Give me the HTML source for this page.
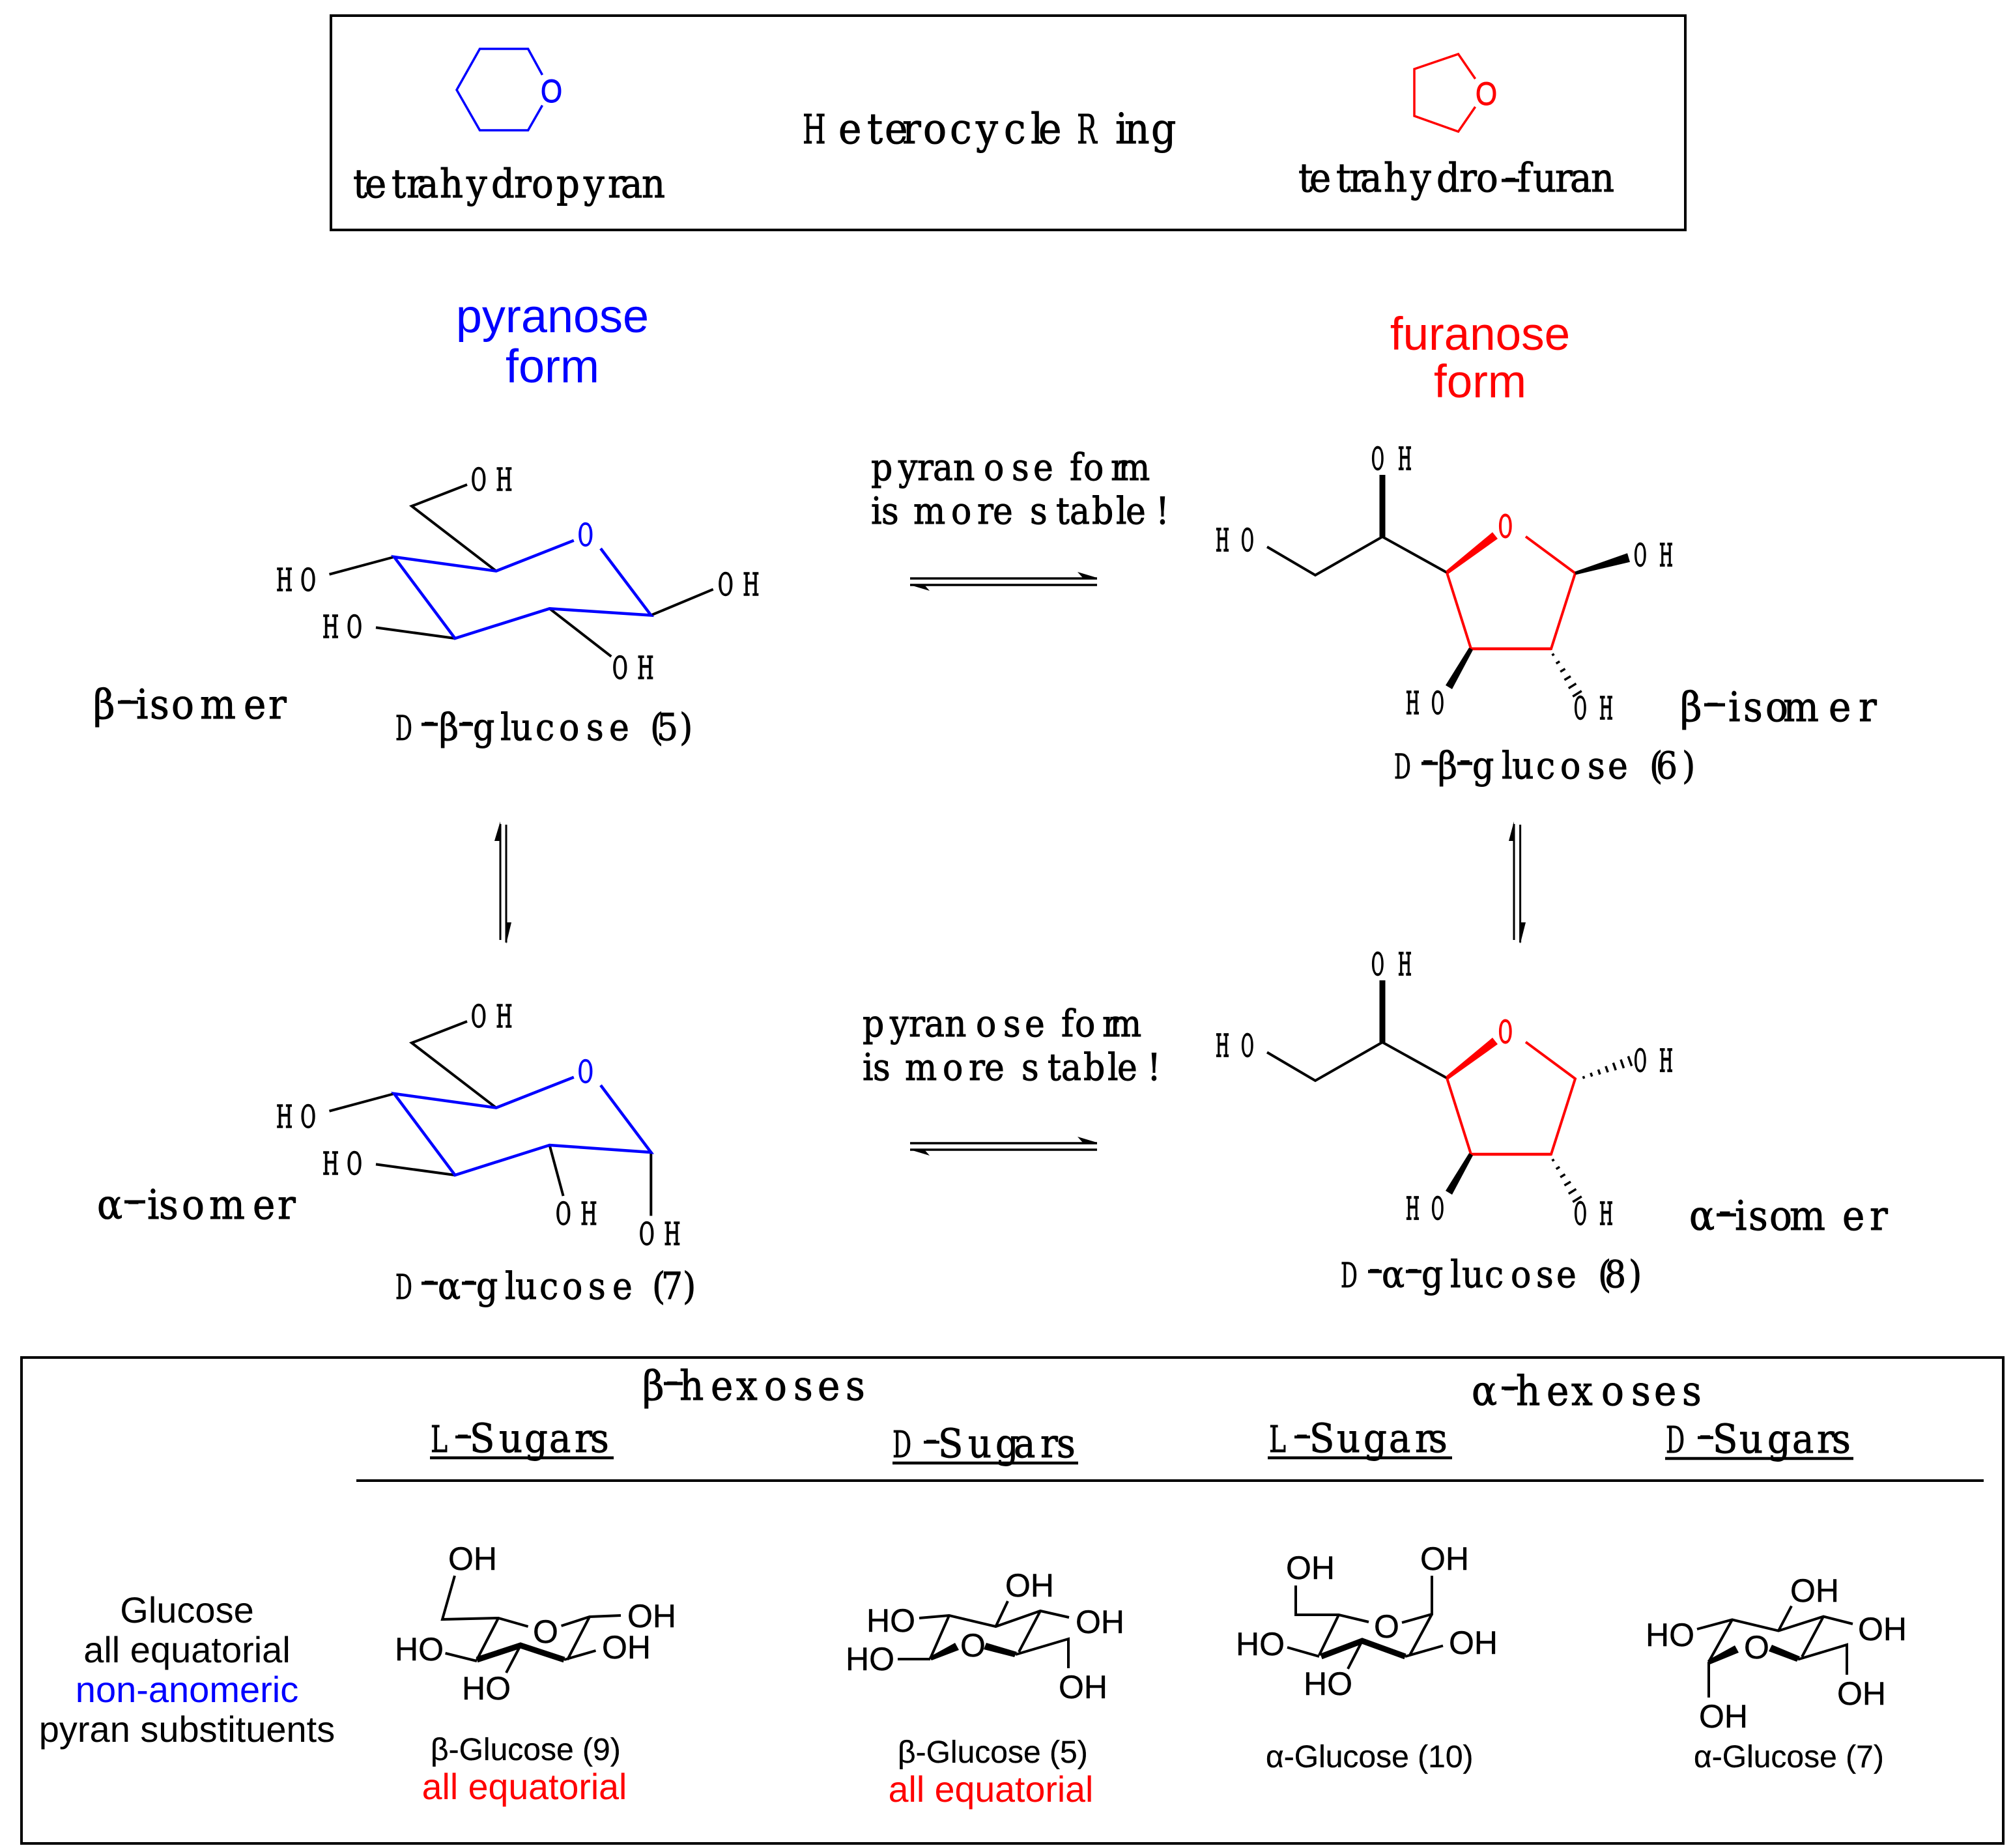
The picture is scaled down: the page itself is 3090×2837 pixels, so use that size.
<!DOCTYPE html>
<html><head><meta charset="utf-8"><title>Glucose pyranose and furanose forms</title>
<style>
html,body{margin:0;padding:0;background:#fff}
svg{display:block}
.a{font-family:"Liberation Sans",sans-serif}
.d{font-family:"DejaVu Serif","Liberation Serif",serif;stroke:#000;stroke-width:.9}
.l{font-family:"DejaVu Serif","Liberation Serif",serif;font-size:48px;stroke:#000;stroke-width:1.5}
.t{font-family:"DejaVu Serif","Liberation Serif",serif;font-size:52px;stroke:#000;stroke-width:.9}
.i{font-family:"DejaVu Serif","Liberation Serif",serif;font-size:58px;stroke:#000;stroke-width:.9}
.u{font-family:"DejaVu Serif","Liberation Serif",serif;font-size:56px;stroke:#000;stroke-width:.9}
.m{font-family:"Liberation Sans",sans-serif;font-size:50px;stroke:#000;stroke-width:.4}
.c{font-family:"Liberation Sans",sans-serif;font-size:48px;stroke:#000;stroke-width:.3}
.e{font-family:"Liberation Sans",sans-serif;font-size:55.5px;text-anchor:middle}
</style></head>
<body>
<svg xmlns="http://www.w3.org/2000/svg" width="3090" height="2837" viewBox="0 0 3090 2837">
<rect width="3090" height="2837" fill="#fff"/>
<!-- top box -->
<rect x="508" y="24" width="2079" height="329" fill="none" stroke="#000" stroke-width="4"/>
<path d="M832.5 115L810.6 75H736.5L701 138L736.5 200H810.6L832.5 161.7" fill="none" stroke="#00f" stroke-width="3.5"/>
<text class="a" font-size="50" fill="#00f" stroke="#00f" stroke-width="1" transform="translate(830,157) scale(.85,1)">O</text>
<path d="M2264.6 121L2238.5 83L2171 106V178L2238.5 202L2264.6 164" fill="none" stroke="#f00" stroke-width="3.5"/>
<text class="a" font-size="50" fill="#f00" stroke="#f00" stroke-width="1" transform="translate(2265,161) scale(.85,1)">O</text>
<text class="d" font-size="62" transform="translate(1232,220) scale(.66,1)">H</text>
<text class="d" font-size="60" transform="translate(0,220) scale(1,1.08)" x="1287 1331 1358 1385 1417 1458 1498 1541 1582 1594">eterocycle</text>
<text class="d" font-size="62" transform="translate(1653,220) scale(.66,1)">R</text>
<text class="d" font-size="60" transform="translate(0,220) scale(1,1.08)" x="1712 1726 1767">ing</text>
<text class="d" font-size="56" transform="translate(0,303) scale(1,1.08)" x="542 560 601 624 640 675 716 754 789 816 854 896 933 953 985">tetrahydropyran</text>
<text class="d" font-size="56" transform="translate(0,294) scale(1,1.08)" x="1993 2010 2051 2071 2088 2124 2165 2205 2240 2266 2309 2329 2353 2387 2410 2442">tetrahydro<tspan dy="-2">-</tspan><tspan dy="2">furan</tspan></text>
<path d="M2305 277H2332" stroke="#000" stroke-width="5"/>

<!-- headings -->
<text class="a" font-size="72" fill="#00f" text-anchor="middle" x="848" y="510">pyranose</text>
<text class="a" font-size="72" fill="#00f" text-anchor="middle" x="848" y="587">form</text>
<text class="a" font-size="71" fill="#f00" text-anchor="middle" x="2272" y="537">furanose</text>
<text class="a" font-size="71" fill="#f00" text-anchor="middle" x="2272" y="610">form</text>

<!-- molecule 5 -->
<path d="M717 744L632 777L761.5 876.6M505.5 881.7L605 855M577 963.4L698.4 980M843.6 934.3L938.3 1007.8M999.3 944.5L1094.7 904.7" fill="none" stroke="#000" stroke-width="4"/>
<path d="M880.8 829.7L761.5 876.6L605 855L698.4 980L843.6 934.3L999.3 944.5L922 842" fill="none" stroke="#00f" stroke-width="4.5"/>
<text class="l" style="fill:#00f;stroke:#00f" transform="translate(887,838) scale(.6,1)">O</text>
<text class="l" transform="translate(723,753) scale(.6,1)" x="0 64">OH</text>
<text class="l" transform="translate(424,907) scale(.6,1)" x="0 62">HO</text>
<text class="l" transform="translate(495,979) scale(.6,1)" x="0 62">HO</text>
<text class="l" transform="translate(940,1042) scale(.6,1)" x="0 64">OH</text>
<text class="l" transform="translate(1102,914) scale(.6,1)" x="0 64">OH</text>
<text class="i" transform="translate(0,1103) scale(1,1.08)" x="143 183 209 230 263 307 374 412">β<tspan dy="-8">-</tspan><tspan dy="8">isomer</tspan></text>
<path d="M181 1078H212" stroke="#000" stroke-width="5"/>
<text class="t" transform="translate(607,1136) scale(.62,1)">D</text>
<text class="t" transform="translate(0,1136) scale(1,1.1)" x="650 674 708 726 768 784 822 858 900 935 970 998 1008 1043"><tspan dy="-9">-</tspan><tspan dy="9">β</tspan><tspan dy="-9">-</tspan><tspan dy="9">glucose (5)</tspan></text>
<path d="M647 1112H672M705 1112H726" stroke="#000" stroke-width="5"/>

<!-- arrows top -->
<text class="t" transform="translate(0,737) scale(1,1.1)" x="1337 1379 1408 1432 1463 1510 1553 1586 1620 1642 1663 1705 1716">pyranose form</text>
<text class="t" transform="translate(0,804) scale(1,1.1)" x="1337 1353 1380 1402 1460 1500 1524 1560 1581 1621 1642 1676 1713 1728 1774">is more stable!</text>
<path d="M1397 888H1684M1397 898H1684" stroke="#000" stroke-width="3.5" fill="none"/>
<path d="M1684 887L1654 878L1662 887ZM1397 898L1427 907L1419 898Z" fill="#000"/>

<!-- vertical arrows -->
<path d="M768 1265V1443M777 1266V1447M2324 1265V1443M2333.6 1266V1447" stroke="#000" stroke-width="3"/>
<path d="M768 1261L759 1291H768ZM777 1449L785 1416H777ZM2324 1261L2316 1291H2324ZM2333.6 1449L2342 1416H2333.6Z" fill="#000"/>

<!-- furanose beta 6 -->
<path d="M1945 839.5L2019 883L2122 824L2221 879" fill="none" stroke="#000" stroke-width="4"/>
<path d="M2122 824V729" stroke="#000" stroke-width="9"/>
<path d="M2342 823.7L2418 880L2381 996H2258L2221 879" fill="none" stroke="#f00" stroke-width="4"/>
<path d="M2258 996H2381" stroke="#f00" stroke-width="4.5"/>
<path d="M2219.2 876.6L2291 817L2299 827L2222.8 881.4Z" fill="#f00"/>
<path d="M2417.3 877.6L2498 849.3L2502 862.7L2418.7 882.4Z" fill="#000"/>
<path d="M2255 994.2L2219 1052L2229 1058L2261 997.8Z" fill="#000"/>
<path d="M2382.3 1006L2385.7 1004M2388.7 1018.7L2394.1 1015.3M2395.1 1031.3L2402.5 1026.7M2401.4 1043.9L2411 1038.1M2407.8 1056.6L2419.4 1049.4M2414.2 1069.2L2427.8 1060.8" stroke="#000" stroke-width="3.5" fill="none"/>
<text class="l" style="fill:#f00;stroke:#f00;stroke-width:2" transform="translate(2300,825) scale(.55,1)">O</text>
<text class="l" style="stroke-width:1.7" transform="translate(1866,846) scale(.5,1)" x="0 78">HO</text>
<text class="l" style="stroke-width:1.7" transform="translate(2105,721) scale(.5,1)" x="0 82">OH</text>
<text class="l" style="stroke-width:1.7" transform="translate(2508,869) scale(.5,1)" x="0 78">OH</text>
<text class="l" style="stroke-width:1.7" transform="translate(2158,1096) scale(.5,1)" x="0 78">HO</text>
<text class="l" style="stroke-width:1.7" transform="translate(2416,1104) scale(.5,1)" x="0 78">OH</text>
<text class="i" transform="translate(0,1107) scale(1,1.08)" x="2579 2619 2653 2676 2710 2737 2807 2853">β<tspan dy="-8">-</tspan><tspan dy="8">isomer</tspan></text>
<path d="M2616 1082H2648" stroke="#000" stroke-width="5"/>
<text class="t" transform="translate(2140,1195) scale(.62,1)">D</text>
<text class="t" transform="translate(0,1195) scale(1,1.1)" x="2183 2207 2240 2260 2305 2321 2358 2395 2437 2468 2500 2532 2542 2582"><tspan dy="-9">-</tspan><tspan dy="9">β</tspan><tspan dy="-9">-</tspan><tspan dy="9">glucose (6)</tspan></text>
<path d="M2182 1172H2207M2237 1172H2260" stroke="#000" stroke-width="5"/>

<!-- molecule 7 -->
<path d="M717 1568L632 1601L761.5 1700.6M505.5 1705.7L605 1679M577 1787.4L698.4 1804M843.6 1758L864.6 1836M999.3 1769V1866.5" fill="none" stroke="#000" stroke-width="4"/>
<path d="M880.8 1653.7L761.5 1700.6L605 1679L698.4 1804L843.6 1758L999.3 1769L922 1666" fill="none" stroke="#00f" stroke-width="4.5"/>
<text class="l" style="fill:#00f;stroke:#00f" transform="translate(887,1662) scale(.6,1)">O</text>
<text class="l" transform="translate(723,1577) scale(.6,1)" x="0 64">OH</text>
<text class="l" transform="translate(424,1731) scale(.6,1)" x="0 62">HO</text>
<text class="l" transform="translate(495,1803) scale(.6,1)" x="0 62">HO</text>
<text class="l" transform="translate(853,1880) scale(.6,1)" x="0 64">OH</text>
<text class="l" transform="translate(981,1911) scale(.6,1)" x="0 64">OH</text>
<text class="i" transform="translate(0,1871) scale(1,1.08)" x="149 195 226 244 279 321 388 426">α<tspan dy="-8">-</tspan><tspan dy="8">isomer</tspan></text>
<path d="M191 1845H223" stroke="#000" stroke-width="5"/>
<text class="t" transform="translate(607,1994) scale(.62,1)">D</text>
<text class="t" transform="translate(0,1994) scale(1,1.1)" x="650 672 712 731 775 791 828 863 903 940 975 1001 1015 1048"><tspan dy="-9">-</tspan><tspan dy="9">α</tspan><tspan dy="-9">-</tspan><tspan dy="9">glucose (7)</tspan></text>
<path d="M647 1970H672M709 1970H731" stroke="#000" stroke-width="5"/>

<!-- arrows bottom -->
<text class="t" transform="translate(0,1591) scale(1,1.1)" x="1324 1366 1395 1419 1450 1498 1540 1573 1607 1629 1650 1692 1703">pyranose form</text>
<text class="t" transform="translate(0,1658) scale(1,1.1)" x="1324 1340 1367 1389 1447 1487 1511 1547 1568 1608 1629 1663 1700 1715 1761">is more stable!</text>
<path d="M1397 1755H1684M1397 1765H1684" stroke="#000" stroke-width="3.5" fill="none"/>
<path d="M1684 1754L1654 1745L1662 1754ZM1397 1765L1427 1774L1419 1765Z" fill="#000"/>

<!-- furanose alpha 8 -->
<path d="M1945 1615.5L2019 1659L2122 1600L2221 1655" fill="none" stroke="#000" stroke-width="4"/>
<path d="M2122 1600V1505" stroke="#000" stroke-width="9"/>
<path d="M2342 1599.7L2418 1656L2381 1772H2258L2221 1655" fill="none" stroke="#f00" stroke-width="4"/>
<path d="M2258 1772H2381" stroke="#f00" stroke-width="4.5"/>
<path d="M2219.2 1652.6L2291 1593L2299 1603L2222.8 1657.4Z" fill="#f00"/>
<path d="M2255 1770.2L2219 1828L2229 1834L2261 1773.8Z" fill="#000"/>
<path d="M2382.3 1782L2385.7 1780M2388.7 1794.7L2394.1 1791.3M2395.1 1807.3L2402.5 1802.7M2401.4 1819.9L2411 1814.1M2407.8 1832.6L2419.4 1825.4M2414.2 1845.2L2427.8 1836.8" stroke="#000" stroke-width="3.5" fill="none"/>
<path d="M2430.3 1652.1L2431.7 1655.9M2441.8 1647L2443.8 1652.6M2453.4 1641.9L2456 1649.5M2464.8 1636.8L2468.2 1646.2M2476.3 1631.6L2480.3 1643M2487.9 1626.6L2492.5 1639.8M2499.3 1621.5L2504.7 1636.5" stroke="#000" stroke-width="3.5" fill="none"/>
<text class="l" style="fill:#f00;stroke:#f00;stroke-width:2" transform="translate(2300,1601) scale(.55,1)">O</text>
<text class="l" style="stroke-width:1.7" transform="translate(1866,1622) scale(.5,1)" x="0 78">HO</text>
<text class="l" style="stroke-width:1.7" transform="translate(2105,1497) scale(.5,1)" x="0 82">OH</text>
<text class="l" style="stroke-width:1.7" transform="translate(2508,1645) scale(.5,1)" x="0 78">OH</text>
<text class="l" style="stroke-width:1.7" transform="translate(2158,1872) scale(.5,1)" x="0 78">HO</text>
<text class="l" style="stroke-width:1.7" transform="translate(2416,1880) scale(.5,1)" x="0 78">OH</text>
<text class="i" transform="translate(0,1888) scale(1,1.08)" x="2593 2638 2663 2684 2716 2747 2828 2870">α<tspan dy="-8">-</tspan><tspan dy="8">isomer</tspan></text>
<path d="M2635 1865H2665" stroke="#000" stroke-width="5"/>
<text class="t" transform="translate(2058,1976) scale(.62,1)">D</text>
<text class="t" transform="translate(0,1976) scale(1,1.1)" x="2101 2121 2160 2182 2226 2244 2279 2319 2358 2389 2420 2453 2463 2500"><tspan dy="-9">-</tspan><tspan dy="9">α</tspan><tspan dy="-9">-</tspan><tspan dy="9">glucose (8)</tspan></text>
<path d="M2100 1952H2121M2158 1952H2182" stroke="#000" stroke-width="5"/>

<!-- bottom box -->
<rect x="33" y="2084" width="3042" height="746" fill="none" stroke="#000" stroke-width="4"/>
<path d="M547 2273H3045" stroke="#000" stroke-width="4"/>
<text class="i" transform="translate(0,2149) scale(1,1.08)" x="986 1022 1043 1091 1130 1173 1218 1255 1298">β<tspan dy="-8">-</tspan><tspan dy="8">hexoses</tspan></text>
<path d="M1019 2124H1048" stroke="#000" stroke-width="5"/>
<text class="i" transform="translate(0,2157) scale(1,1.08)" x="2259 2307 2327 2374 2412 2458 2504 2539 2582">α<tspan dy="-8">-</tspan><tspan dy="8">hexoses</tspan></text>
<path d="M2305 2131H2330" stroke="#000" stroke-width="5"/>

<text class="u" transform="translate(661,2229) scale(.7,1)">L</text>
<text class="u" transform="translate(0,2229) scale(1,1.08)" x="701 721 766 805 843 882 906"><tspan dy="-7">-</tspan><tspan dy="7">Sugars</tspan></text>
<path d="M699 2206H723M660 2238H942" stroke="#000" stroke-width="4.5"/>
<text class="u" transform="translate(1370,2237) scale(.65,1)">D</text>
<text class="u" transform="translate(0,2237) scale(1,1.08)" x="1420 1440 1486 1528 1556 1597 1622"><tspan dy="-7">-</tspan><tspan dy="7">Sugars</tspan></text>
<path d="M1418 2214H1442M1370 2246H1655" stroke="#000" stroke-width="4.5"/>
<text class="u" transform="translate(1948,2229) scale(.7,1)">L</text>
<text class="u" transform="translate(0,2229) scale(1,1.08)" x="1989 2010 2052 2093 2132 2172 2193"><tspan dy="-7">-</tspan><tspan dy="7">Sugars</tspan></text>
<path d="M1987 2206H2011M1946 2238H2229" stroke="#000" stroke-width="4.5"/>
<text class="u" transform="translate(2557,2230) scale(.65,1)">D</text>
<text class="u" transform="translate(0,2230) scale(1,1.08)" x="2608 2629 2670 2713 2751 2789 2812"><tspan dy="-7">-</tspan><tspan dy="7">Sugars</tspan></text>
<path d="M2606 2207H2630M2556 2239H2845" stroke="#000" stroke-width="4.5"/>

<text class="a" font-size="56" text-anchor="middle" x="287" y="2491">Glucose</text>
<text class="a" font-size="56" text-anchor="middle" x="287" y="2552">all equatorial</text>
<text class="a" font-size="56" fill="#00f" text-anchor="middle" x="287" y="2613">non-anomeric</text>
<text class="a" font-size="56" text-anchor="middle" x="287" y="2674">pyran substituents</text>

<!-- molecule 9 small -->
<g transform="translate(-5,0)">
<path d="M703 2419L684 2486L770 2484L815.6 2497M866.6 2496L910 2482L958 2480M770 2484L737 2548M910 2482L876 2548M688.6 2538L737 2550M871 2548L919.5 2534M804 2526L782 2568" fill="none" stroke="#000" stroke-width="4"/>
<path d="M737 2548L804 2526L871 2548" fill="none" stroke="#000" stroke-width="9"/>
<text class="m" x="693" y="2410">OH</text><text class="m" x="823" y="2522">O</text>
<text class="m" x="968" y="2498">OH</text><text class="m" x="929" y="2546">OH</text>
<text class="m" x="611" y="2549">HO</text><text class="m" x="714" y="2609">HO</text>
</g>
<text class="c" x="661" y="2702">β-Glucose (9)</text>
<text class="e" fill="#f00" x="805" y="2762">all equatorial</text>

<!-- molecule 5 small -->
<path d="M1411 2484L1457 2480L1528.5 2497L1597 2473L1641 2483M1457 2480L1428 2546M1378 2547H1428M1559 2540L1640 2516V2561M1597 2473L1564 2536M1528.5 2497L1547 2458" fill="none" stroke="#000" stroke-width="4"/>
<path d="M1426 2544L1466 2522L1472 2533L1430 2549ZM1514 2522L1561 2536L1557 2544L1510 2532Z" fill="#000"/>
<text class="m" x="1330" y="2505">HO</text><text class="m" x="1298" y="2564">HO</text>
<text class="m" x="1474" y="2543">O</text><text class="m" x="1543" y="2451">OH</text>
<text class="m" x="1651" y="2507">OH</text><text class="m" x="1625" y="2607">OH</text>
<text class="c" x="1378" y="2706">β-Glucose (5)</text>
<text class="e" fill="#f00" x="1521" y="2766">all equatorial</text>

<!-- molecule 10 small -->
<path d="M1989 2434V2479H2055L2101 2490M2152 2491L2198 2478V2419M2055 2479L2025 2541M2198 2478L2164 2541M1976 2529L2025 2543M2157 2543L2215 2526.5M2091 2519L2069 2562" fill="none" stroke="#000" stroke-width="4"/>
<path d="M2028 2543L2091 2519L2157 2543" fill="none" stroke="#000" stroke-width="9"/>
<text class="m" x="1974" y="2424">OH</text><text class="m" x="2180" y="2410">OH</text>
<text class="m" x="2109" y="2514">O</text><text class="m" x="1897" y="2541">HO</text>
<text class="m" x="2224" y="2539">OH</text><text class="m" x="2001" y="2602">HO</text>
<text class="c" x="1943" y="2713">α-Glucose (10)</text>

<!-- molecule 7 small -->
<g transform="translate(-3,0)">
<path d="M2753 2465.5L2733 2503.6M2608 2501L2662 2486.5L2733 2503.6L2802 2481.6L2847 2493M2802 2481.6L2769 2543.6M2662 2486.5L2626 2551M2763 2547.5L2838 2525V2571M2626 2551V2606" fill="none" stroke="#000" stroke-width="4"/>
<path d="M2624 2549L2666 2526L2672 2537L2628 2555ZM2723 2525L2766 2543L2761 2551L2718 2535Z" fill="#000"/>
<text class="m" x="2751" y="2459">OH</text><text class="m" x="2529" y="2527">HO</text>
<text class="m" x="2855" y="2518">OH</text><text class="m" x="2680" y="2546">O</text>
<text class="m" x="2823" y="2617">OH</text><text class="m" x="2611" y="2652">OH</text>
<text class="c" x="2603" y="2713">α-Glucose (7)</text>
</g>
</svg>
</body></html>
